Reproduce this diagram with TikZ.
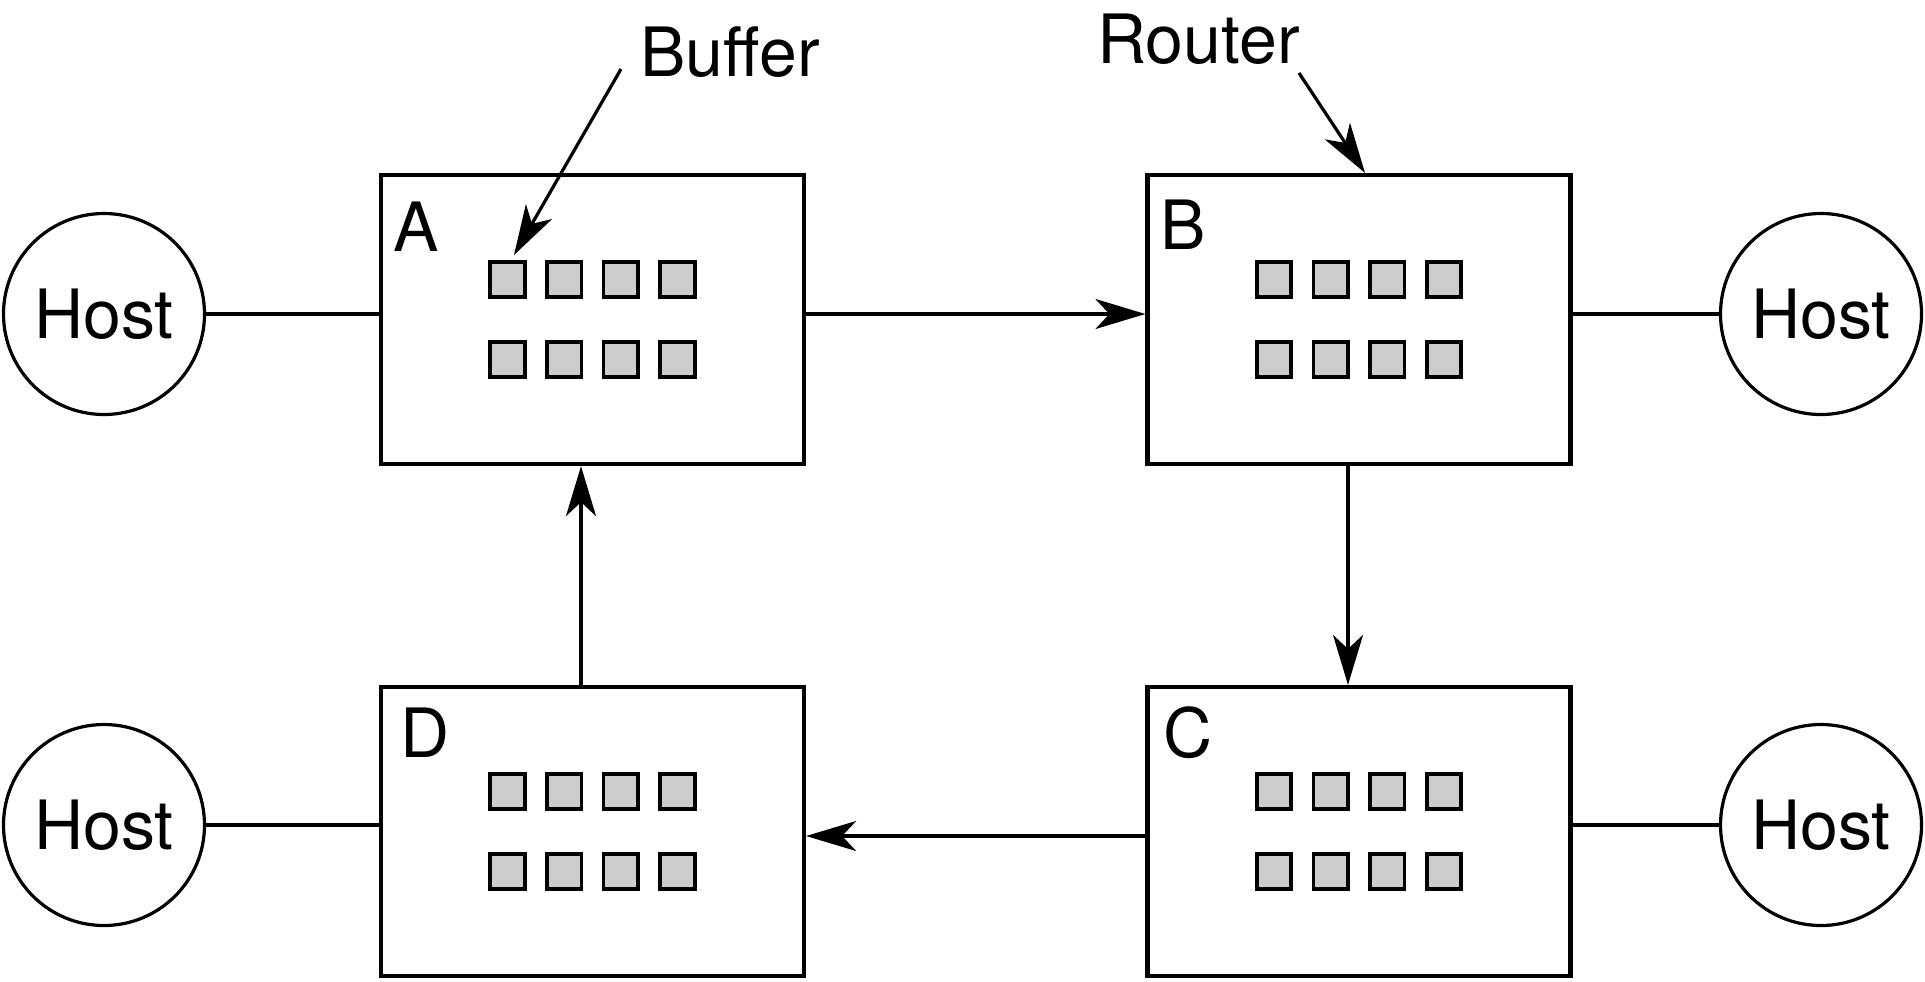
\documentclass[tikz,border=0pt]{standalone}
\usepackage{fontspec}
\setmainfont{TeX Gyre Heros}
\usetikzlibrary{arrows.meta}
\begin{document}
\begin{tikzpicture}[x=0.5pt,y=-0.5pt,
  router/.style={draw,line width=2.1pt,minimum width=211.5pt,minimum height=144.5pt,inner sep=0pt},
  host/.style={draw,circle,line width=1.6pt,minimum size=100.5pt,inner sep=0pt,font=\fontsize{34pt}{40pt}\selectfont},
  buf/.style={draw,line width=1.8pt,fill=black!20,minimum size=17.25pt,inner sep=0pt},
  lbl/.style={inner sep=0pt,anchor=base west,font=\fontsize{34pt}{40pt}\selectfont},
  link/.style={line width=1.6pt},
  arr/.style={line width=1.6pt,-{Stealth[length=25pt,width=15pt,inset=7pt]}}]
\useasboundingbox (0,0) rectangle (1925,981);
% routers
\node[router] (A) at (592.5,319.5) {};
\node[router] (B) at (1359,319.5) {};
\node[router] (C) at (1359,831.5) {};
\node[router] (D) at (592.5,831.5) {};
% buffers
\foreach \b in {A,B,C,D}{
  \foreach \r/\dy in {1/-40,2/40}{
    \foreach \c/\dx in {1/-85,2/-28.33,3/28.33,4/85}{
      \node[buf] (\b\r\c) at ([shift={(\dx,\dy)}]\b.center) {};
    }
  }
}
% router letters
\node[lbl] (Alabel) at (393,251) {A};
\node[lbl] (Blabel) at (1160,249) {B};
\node[lbl] (Clabel) at (1163,757) {C};
\node[lbl] (Dlabel) at (400,757) {D};
% hosts
\node[host] (hA) at (104,314) {Host};
\node[host] (hB) at (1821,314) {Host};
\node[host] (hC) at (1821,825) {Host};
\node[host] (hD) at (104,825) {Host};
% labels
\node[lbl] (buffer) at (640,76) {Buffer};
\node[lbl] (router) at (1097,63) {Router};
% host links
\draw[link] (hA) -- (hA -| A.west);
\draw[link] (hB) -- (hB -| B.east);
\draw[link] (hC) -- (hC -| C.east);
\draw[link] (hD) -- (hD -| D.west);
% ring
\draw[arr] (A.east |- hA) -- (B.west |- hA);
\draw[arr] ([xshift=-5.5pt]B.south) -- ([xshift=-5.5pt]C.north);
\draw[arr] ([yshift=-2.25pt]C.west) -- ([yshift=-2.25pt]D.east);
\draw[arr] ([xshift=-5.75pt]D.north) -- ([xshift=-5.75pt]A.south);
% callouts
\coordinate (bufstart) at (621,69);
\coordinate (buftip) at (514,255);
\draw[arr] (bufstart) -- (buftip);
\coordinate (rtstart) at (1299,73);
\draw[arr] (rtstart) -- ([xshift=3pt]B.north);
\end{tikzpicture}
\end{document}
